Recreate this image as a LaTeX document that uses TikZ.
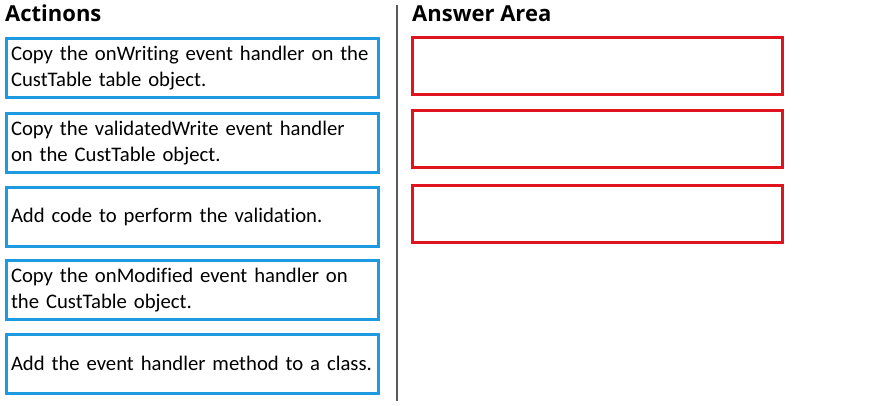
\documentclass[tikz,border=0pt]{standalone}
\usepackage{fontspec}
\setmainfont{Carlito}[RawFeature=-liga]
\newfontfamily\headfont{Open Sans}
\definecolor{actblue}{HTML}{1E9BE0}
\definecolor{ansred}{HTML}{E0141E}
\begin{document}
\begin{tikzpicture}[x=1pt,y=-1pt,
	every node/.style={font=\fontsize{20.7}{25.5}\selectfont},
	action/.style={draw=actblue,line width=3pt,minimum width=371pt,minimum height=59pt,text width=362pt,inner xsep=5pt,align=left},
	slot/.style={draw=ansred,line width=3pt,minimum width=370pt,minimum height=57pt},
	heading/.style={font=\headfont\bfseries\fontsize{22}{26}\selectfont,anchor=base west,inner sep=0pt}]
	\useasboundingbox(0,0)rectangle(877,406);
	\coordinate(T)at(397,5);
	\coordinate(B)at(397,401);
	\draw[gray!70!black,line width=1.5pt](T)--(B);
	\node[heading](actions)at(5,22){Actinons};
	\node[heading](answer)at(412,22){Answer Area};
	\node[action](A1)at(192,68){Copy the onWriting event handler on the\\CustTable table object.};
	\node[action](A2)at(192,143){Copy the validatedWrite event handler\\on the CustTable object.};
	\node[action](A3)at(192,216.5){Add code to perform the validation.};
	\node[action](A4)at(192,290){Copy the onModified event handler on\\the CustTable object.};
	\node[action](A5)at(192,363.5){Add the event handler method to a class.};
	\foreach\i/\y in{1/66,2/139.5,3/213.5}{\node[slot](S\i)at(597.5,\y){};}
\end{tikzpicture}
\end{document}
